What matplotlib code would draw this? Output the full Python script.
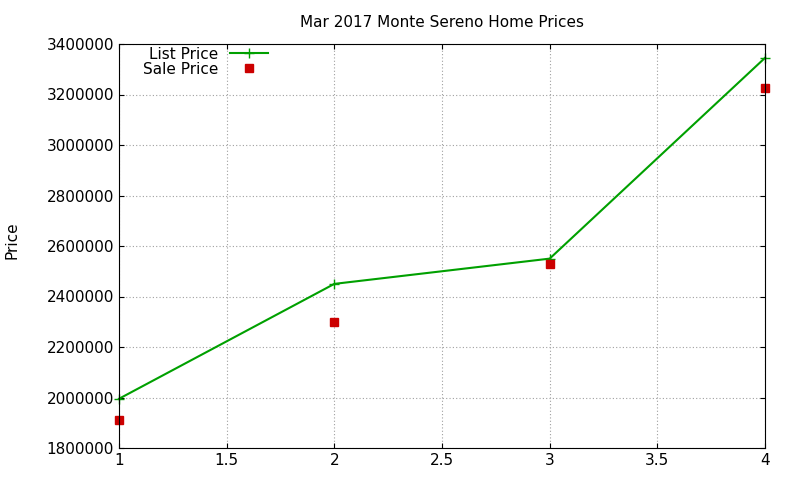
import matplotlib.pyplot as plt

x = [1, 2, 3, 4]
list_price = [1995000, 2450000, 2550000, 3345000]
sale_price = [1910000, 2300000, 2530000, 3225000]
y_ticks = list(range(1800000, 3400001, 200000))
x_ticks = [1, 1.5, 2, 2.5, 3, 3.5, 4]

fig = plt.figure(figsize=(8, 4.8), dpi=100)
ax = fig.add_axes([119/800, 1 - 448/480, (765-119)/800, (448-44)/480])

ax.plot(x, list_price, color="#00a000", marker="+", markersize=7, linewidth=1.5,
        label="List Price", clip_on=False)
ax.plot(x, sale_price, color="#cc0000", marker="s", markersize=6, linestyle="none",
        label="Sale Price", clip_on=False)

ax.set_xlim(1, 4)
ax.set_ylim(1800000, 3400000)
ax.set_xticks(x_ticks)
ax.set_xticklabels(["1", "1.5", "2", "2.5", "3", "3.5", "4"])
ax.set_yticks(y_ticks)
ax.set_yticklabels([str(v) for v in y_ticks])
ax.tick_params(direction="in", labelsize=11, top=True, right=True)
ax.grid(True, color="#a0a0a0", linestyle=(0, (1, 2)), linewidth=0.8)
fig.text(12/800, 0.5, "Price", rotation=90, va="center", ha="center", fontsize=11)
ax.set_title("Mar 2017 Monte Sereno Home Prices", fontsize=11, pad=12)

leg = ax.legend(loc="upper left", bbox_to_anchor=(0.02, 1.02), frameon=False, fontsize=11,
                markerfirst=False, handlelength=2.5, borderpad=0.2, labelspacing=0.0)
for t in leg.get_texts():
    t.set_ha("right")

fig.savefig("out.png", dpi=100)
